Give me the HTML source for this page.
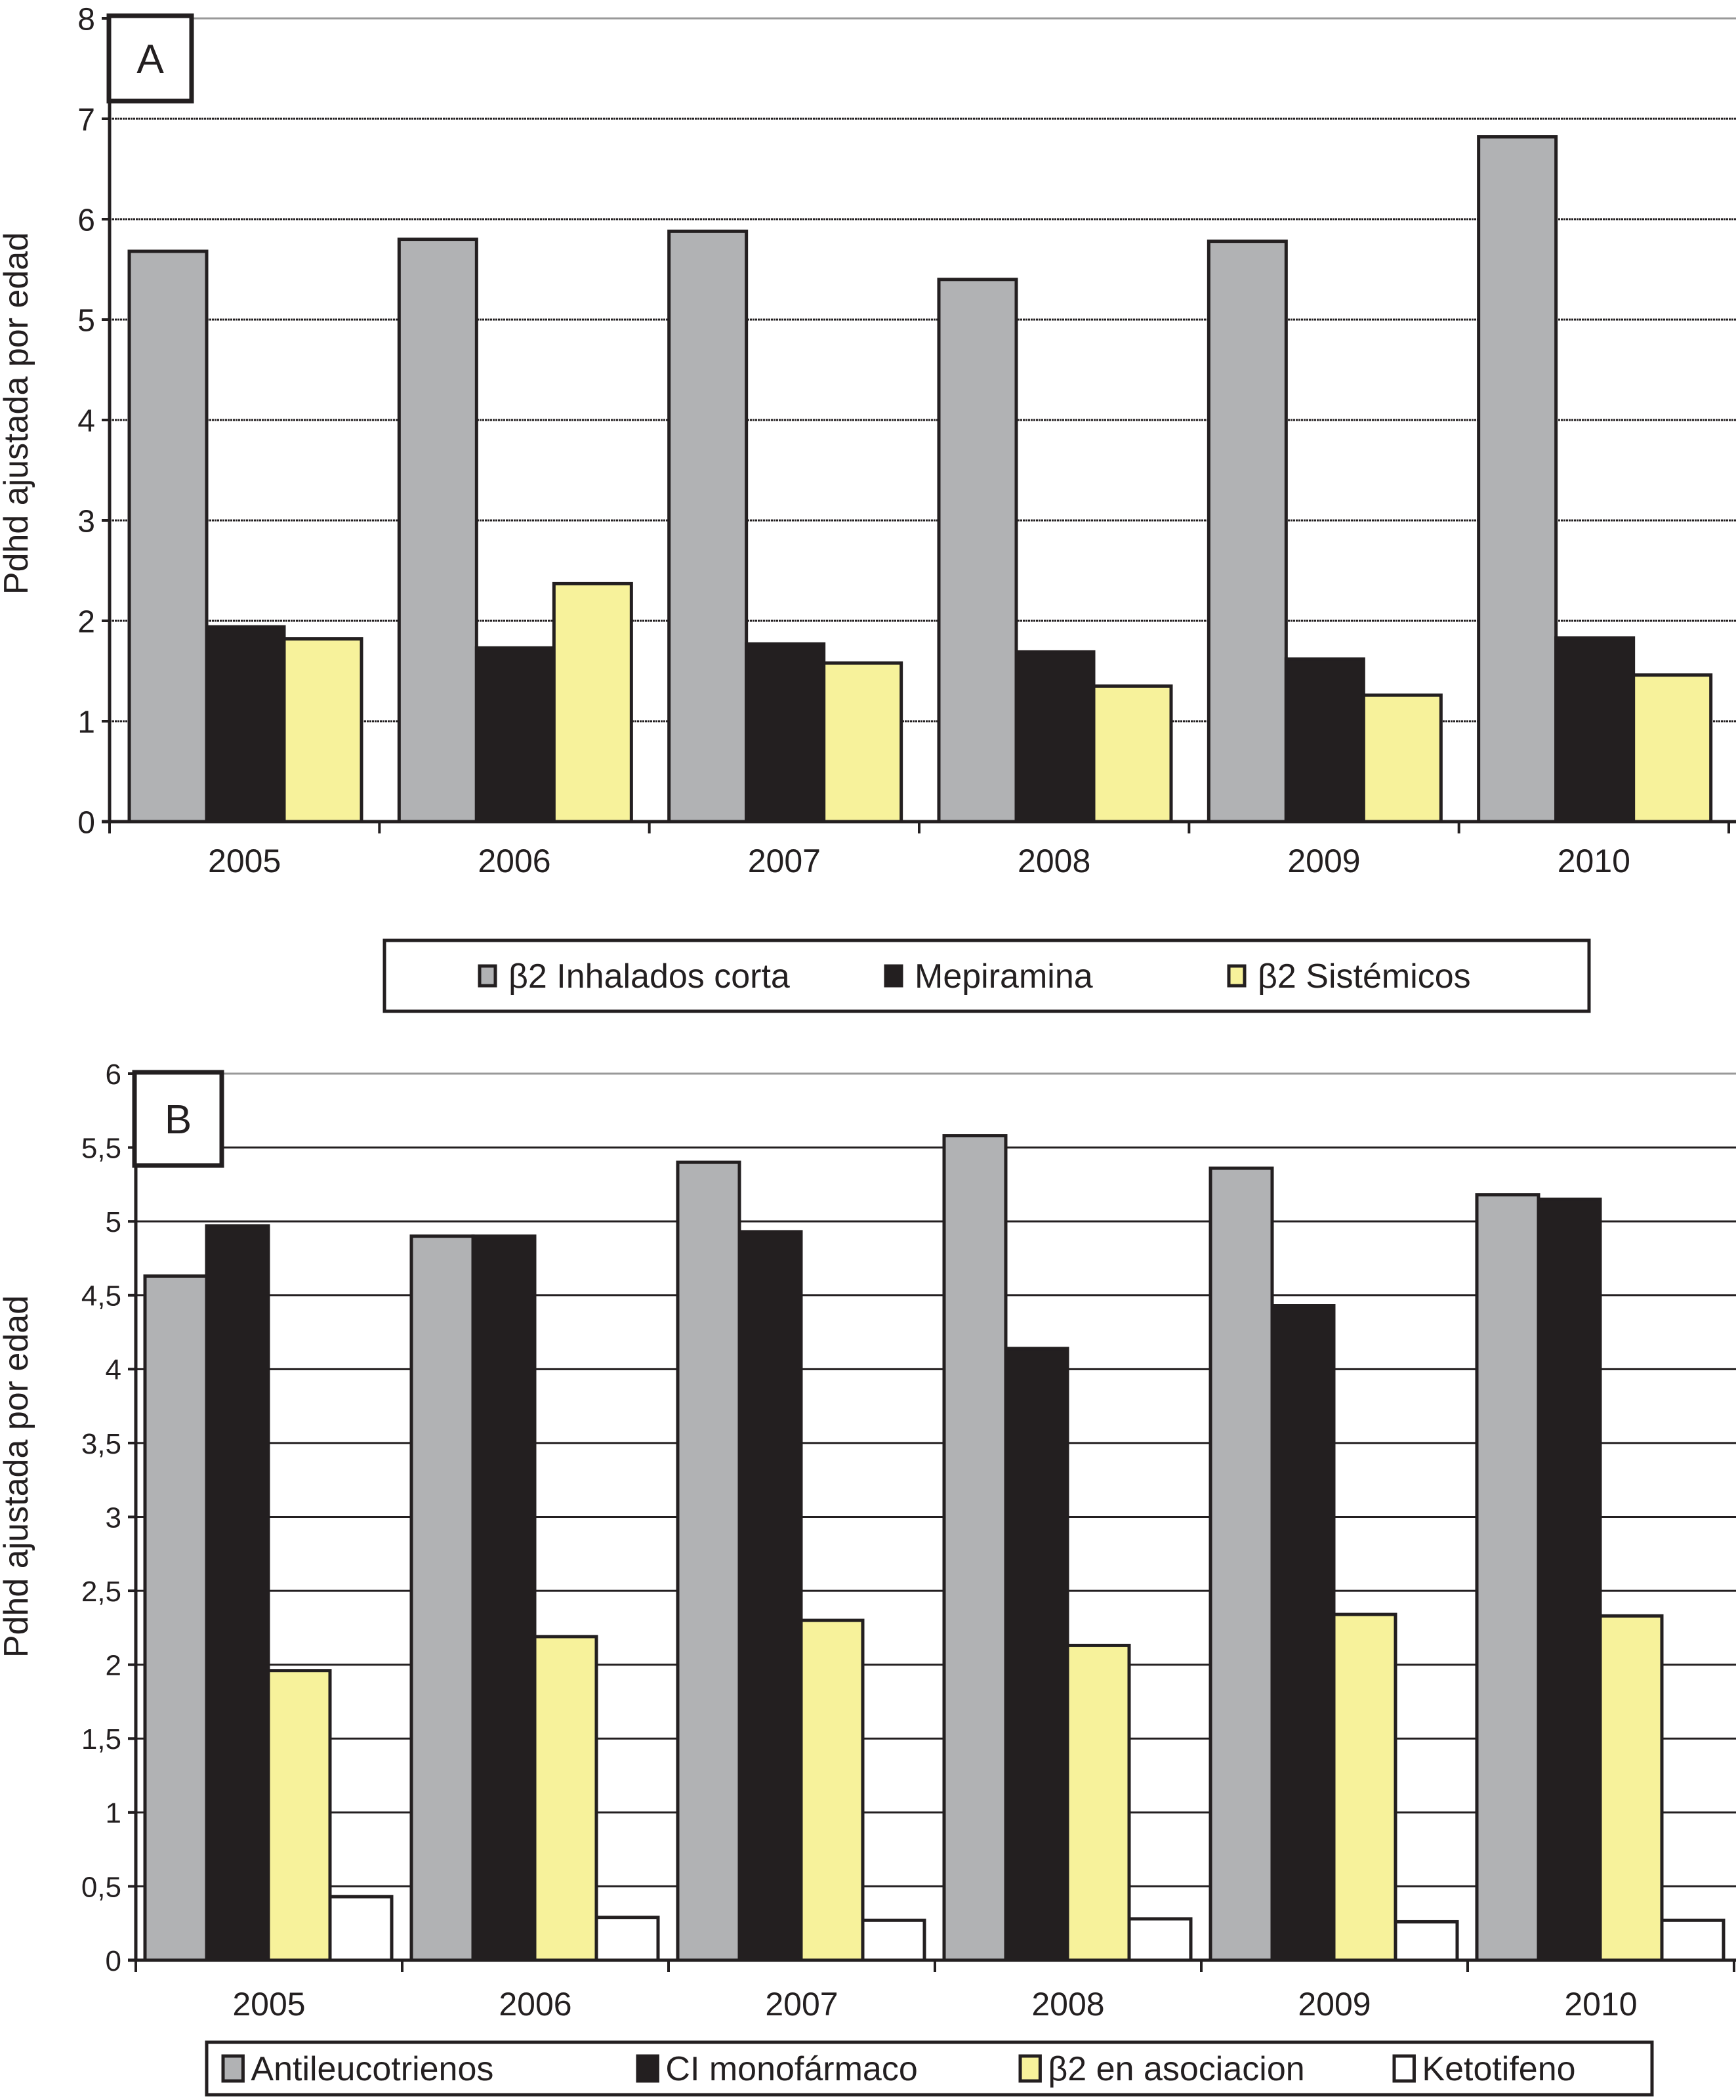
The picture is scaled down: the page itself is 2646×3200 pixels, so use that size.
<!DOCTYPE html>
<html><head><meta charset="utf-8"><style>
html,body{margin:0;padding:0;background:#fff}
svg{display:block}
text{font-family:"Liberation Sans",Arial,sans-serif;fill:#231f20}
</style></head><body>
<svg id="c" width="2646" height="3200" viewBox="0 0 2646 3200" xmlns="http://www.w3.org/2000/svg"></svg>
<script>
const years = ['2005','2006','2007','2008','2009','2010'];
const aInhalados = [5.68,5.80,5.88,5.40,5.78,6.82];
const aMepiramina = [1.94,1.73,1.77,1.69,1.62,1.83];
const aSistemicos = [1.82,2.37,1.58,1.35,1.26,1.46];
const aTicks = ['0','1','2','3','4','5','6','7','8'];
const bAntileuco = [4.63,4.90,5.40,5.58,5.36,5.18];
const bCI = [4.97,4.90,4.93,4.14,4.43,5.15];
const bB2asoc = [1.96,2.19,2.30,2.13,2.34,2.33];
const bKetotifeno = [0.43,0.29,0.27,0.28,0.26,0.27];
const bTicks = ['0','0,5','1','1,5','2','2,5','3','3,5','4','4,5','5','5,5','6'];

const NS='http://www.w3.org/2000/svg';
const svg=document.getElementById('c');
function mk(tag,attrs,parent){const e=document.createElementNS(NS,tag);for(const k in attrs)e.setAttribute(k,attrs[k]);(parent||svg).appendChild(e);return e;}

function chart(cfg){
  const g=mk('g',{});
  
  
  const y=v=>cfg.y0-(v/cfg.max)*(cfg.y0-cfg.yTop);
  const catW=(cfg.xR-cfg.x0)/years.length;
  cfg.ticks.forEach((t,i)=>{
    const v=parseFloat(t.replace(',','.'));const yy=y(v);
    if(v>0){
      const l=mk('line',{x1:cfg.x0,x2:2646,y1:yy,y2:yy,stroke:(v===cfg.max)?'#999':'#231f20','stroke-width':3,'stroke-dasharray':(cfg.dashed&&v!==cfg.max)?'3 1':'none'},g);
      
      
    }
    const tk=mk('line',{x1:cfg.x0-12,x2:cfg.x0,y1:yy,y2:yy,stroke:'#231f20','stroke-width':4},g);
    
    
    const tx=mk('text',{x:cfg.x0-22,y:yy+cfg.tfs*0.36,'text-anchor':'end','font-size':cfg.tfs},g);
    tx.textContent=t;
    
    
  });
  years.forEach((yr,i)=>{
    const gx=cfg.x0+i*catW+cfg.off;
    cfg.series.forEach((s,j)=>{
      const v=s.data[i];const top=y(v);
      const r=mk('rect',{x:gx+j*cfg.bw,y:top,width:cfg.bw,height:cfg.y0-top,fill:s.color,stroke:'#231f20','stroke-width':5},g);
      
      
    });
    const lb=mk('text',{x:cfg.x0+(i+0.5)*catW,y:cfg.labY,'text-anchor':'middle','font-size':50},g);
    lb.textContent=yr;
    
    
  });
  const ax=mk('line',{x1:cfg.x0,x2:cfg.x0,y1:cfg.yTop,y2:cfg.y0,stroke:'#231f20','stroke-width':5},g);
  
  
  const bx=mk('line',{x1:cfg.x0-12,x2:2646,y1:cfg.y0,y2:cfg.y0,stroke:'#231f20','stroke-width':5},g);
  
  
  for(let i=0;i<=years.length;i++){
    const xx=cfg.x0+i*catW;
    const t=mk('line',{x1:xx,x2:xx,y1:cfg.y0,y2:cfg.y0+18,stroke:'#231f20','stroke-width':4},g);
    
    
  }
  const yt=mk('text',{x:0,y:0,'text-anchor':'middle','font-size':52,transform:`translate(${cfg.ytx},${cfg.yty}) rotate(-90)`},g);
  yt.textContent='Pdhd ajustada por edad';
  
  
  const pb=mk('rect',{x:cfg.box[0],y:cfg.box[1],width:cfg.box[2],height:cfg.box[3],fill:'#fff',stroke:'#231f20','stroke-width':7},g);
  
  
  const pt=mk('text',{x:cfg.box[0]+cfg.box[2]/2,y:cfg.box[1]+cfg.box[3]/2+22,'text-anchor':'middle','font-size':62},g);
  pt.textContent=cfg.label;
  
  
  const L=cfg.legend;
  const lr=mk('rect',{x:L.x,y:L.y,width:L.w,height:L.h,fill:'#fff',stroke:'#231f20','stroke-width':5},g);
  
  
  cfg.series.forEach((s,j)=>{
    const sx=L.items[j];const cy=L.y+L.h/2;
    const sq=mk('rect',{x:sx,y:cy-L.sq/2,width:L.sq*0.8,height:L.sq,fill:s.color,stroke:'#231f20','stroke-width':5},g);
    
    
    const tx=mk('text',{x:sx+L.sq*0.8+L.gap,y:cy+18,'font-size':52},g);
    tx.textContent=s.label;
    
    
  });
}

chart({name:'chart-a',label:'A',max:8,ticks:aTicks,x0:167,xR:2635,y0:1252,yTop:28,dashed:true,off:30,bw:118,tfs:48,labY:1329,ytx:42,yty:630,
  box:[166,24,126,130],
  series:[{key:'inhalados',label:'β2 Inhalados corta',color:'#b1b2b4',data:aInhalados},
          {key:'mepiramina',label:'Mepiramina',color:'#231f20',data:aMepiramina},
          {key:'sistemicos',label:'β2 Sistémicos',color:'#f7f29b',data:aSistemicos}],
  legend:{x:586,y:1433,w:1836,h:108,sq:30,gap:20,items:[731,1350,1873]}});

chart({name:'chart-b',label:'B',max:6,ticks:bTicks,x0:207,xR:2643,y0:2987,yTop:1636,dashed:false,off:14,bw:94,tfs:44,labY:3071,ytx:42,yty:2250,
  box:[205,1634,133,142],
  series:[{key:'antileucotrienos',label:'Antileucotrienos',color:'#b1b2b4',data:bAntileuco},
          {key:'ci-monofarmaco',label:'CI monofármaco',color:'#231f20',data:bCI},
          {key:'b2-asociacion',label:'β2 en asociacion',color:'#f7f29b',data:bB2asoc},
          {key:'ketotifeno',label:'Ketotifeno',color:'#ffffff',data:bKetotifeno}],
  legend:{x:315,y:3112,w:2203,h:80,sq:38,gap:12,items:[340,972,1555,2125]}});
</script>
</body></html>
